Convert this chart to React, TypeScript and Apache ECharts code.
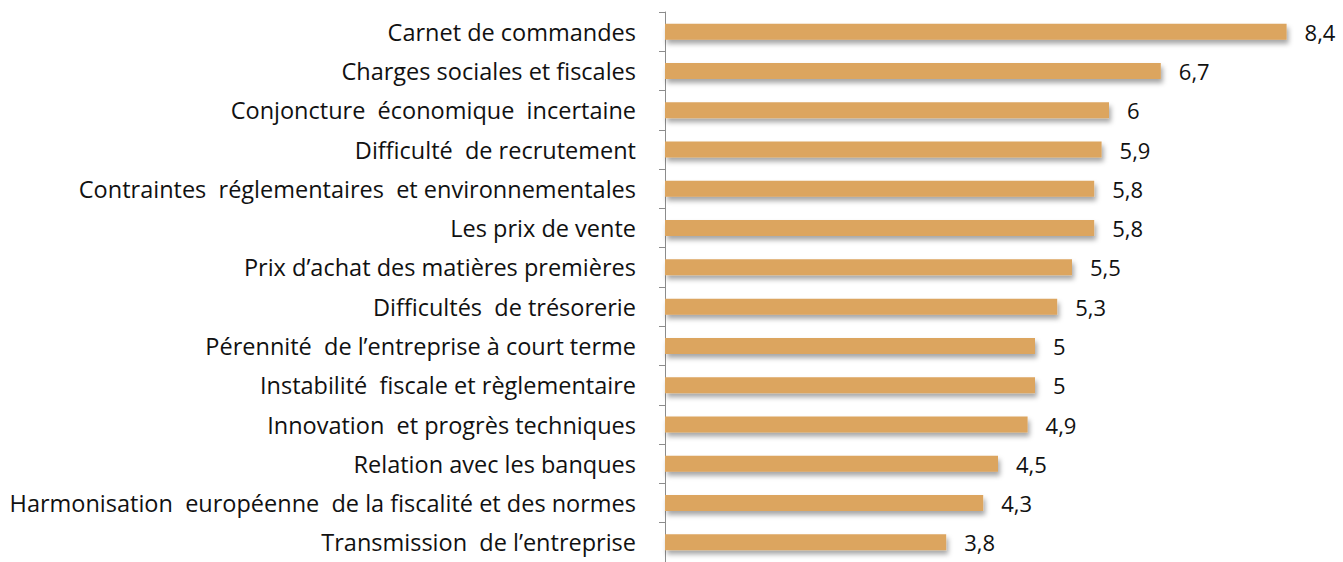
import React, { useEffect, useRef } from "react";
import * as echarts from "echarts";

const categories = [
  "Carnet de commandes",
  "Charges sociales et fiscales",
  "Conjoncture  économique  incertaine",
  "Difficulté  de recrutement",
  "Contraintes  réglementaires  et environnementales",
  "Les prix de vente",
  "Prix d’achat des matières premières",
  "Difficultés  de trésorerie",
  "Pérennité  de l’entreprise à court terme",
  "Instabilité  fiscale et règlementaire",
  "Innovation  et progrès techniques",
  "Relation avec les banques",
  "Harmonisation  européenne  de la fiscalité et des normes",
  "Transmission  de l’entreprise",
];
const values = [8.4, 6.7, 6, 5.9, 5.8, 5.8, 5.5, 5.3, 5, 5, 4.9, 4.5, 4.3, 3.8];

export default function App() {
  const ref = useRef<HTMLDivElement>(null);
  useEffect(() => {
    if (!ref.current) return;
    const chart = echarts.init(ref.current, null, { renderer: "svg" });
    chart.setOption({
      animation: false,
      grid: { left: 665, right: 12, top: 12, height: 556, containLabel: false },
      xAxis: {
        type: "value",
        min: 0,
        max: 9,
        show: false,
      },
      yAxis: {
        type: "category",
        inverse: true,
        data: categories,
        axisLine: { show: true, lineStyle: { color: "#8c8c8c", width: 1 } },
        axisTick: { show: true, length: 6, lineStyle: { color: "#8c8c8c" } },
        axisLabel: {
          margin: 29,
          color: "#111111",
          fontFamily: "Open Sans",
          fontSize: 23.5,
        },
      },
      series: [
        {
          type: "bar",
          data: values,
          barWidth: 16,
          itemStyle: {
            color: "#dca55f",
            shadowColor: "rgba(0,0,0,0.35)",
            shadowBlur: 5,
            shadowOffsetX: 2,
            shadowOffsetY: 4,
          },
          label: {
            show: true,
            position: "right",
            distance: 18,
            color: "#111111",
            fontFamily: "Open Sans",
            fontSize: 22,
            formatter: (p: any) => String(p.value).replace(".", ","),
          },
        },
      ],
    });
    return () => chart.dispose();
  }, []);
  return <div ref={ref} style={{ width: 1343, height: 562, position: "absolute", left: 0, top: 0 }} />;
}
